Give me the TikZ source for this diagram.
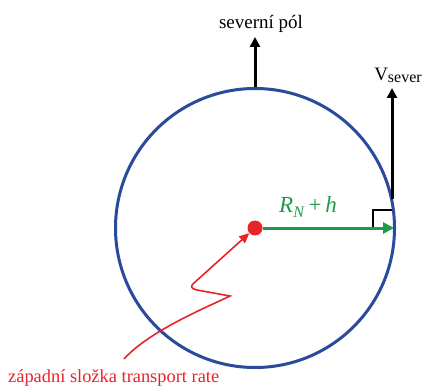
\documentclass[tikz,border=0pt]{standalone}
\usepackage{fontspec}
\setmainfont{Liberation Serif}
\usepackage{tikz}
\usetikzlibrary{calc,arrows.meta}
\definecolor{earthblue}{HTML}{2A4A9C}
\definecolor{radgreen}{HTML}{1E9A4A}
\definecolor{rateRed}{HTML}{E8232A}
\tikzset{vec/.style={black,line width=3pt,-{Triangle[length=10pt,width=10pt]}},
  lbl/.style={inner sep=1pt,font=\fontsize{19}{22}\selectfont}}
\begin{document}
\begin{tikzpicture}[x=1pt,y=-1pt]
\useasboundingbox (0,0) rectangle (425,387);
\node[circle,draw=earthblue,line width=3pt,minimum size=279pt,inner sep=0pt] (earth) at (255,228) {};
\node[circle,fill=rateRed,minimum size=15pt,inner sep=0pt] (center) at (255,228) {};
\coordinate (pol) at (255,37); \coordinate (vtop) at (392,88);
\coordinate (vfoot) at (392,199); \coordinate (rim) at (394,228);
\draw[vec] (earth.north) -- (pol);
\draw[vec] (vfoot) -- (vtop);
\node[lbl,above=3pt,xshift=6pt] (poltext) at (pol) {severní pól};
\node[lbl,above=4pt,xshift=6pt] (vtext) at (vtop) {V\raisebox{-0.3ex}{\fontsize{16}{18}\selectfont sever}};
\draw[black,line width=2pt] (373,228) -- (373,210) -- (392,210);
\draw[radgreen,line width=3pt,-{Triangle[length=11pt,width=11pt]}] (center) -- (rim);
\node[lbl,text=radgreen,font=\fontsize{23}{26}\selectfont] (rtext) at (308,207) {\textit{R}\raisebox{-0.5ex}{\fontsize{16}{18}\selectfont\textit{N}}\,+\,\textit{h}};
\coordinate (wstart) at (124,359);
\draw[rateRed,line width=1.6pt,-{Triangle[length=10pt,width=9pt]}] (wstart) .. controls (150,330) and (212,305) .. (230,296) -- (197,290) .. controls (191,289) and (190,286) .. (194,283) -- (center);
\node[lbl,text=rateRed,anchor=west,font=\fontsize{18.4}{21}\selectfont] (ratetext) at (7,378) {západní složka transport rate};
\end{tikzpicture}
\end{document}
